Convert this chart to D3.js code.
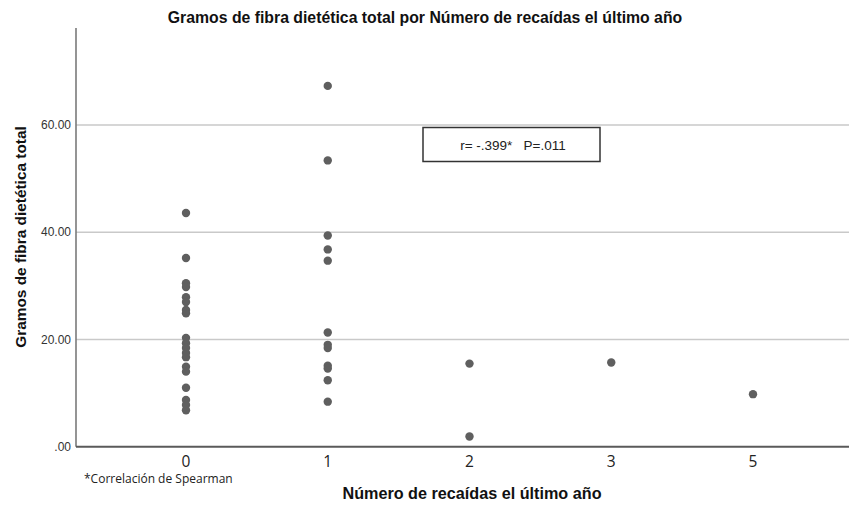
<!DOCTYPE html>
<html>
<head>
<meta charset="utf-8">
<script src="https://cdn.jsdelivr.net/npm/d3@7"></script>
<style>
  html, body { margin: 0; padding: 0; background: #fff; }
  svg { display: block; }
</style>
</head>
<body>
<svg id="chart" width="849" height="507"></svg>
<script>
// ---- data ----
const categories = ["0", "1", "2", "3", "5"];
const yTicks = [0, 20, 40, 60];
const yTickLabels = [".00", "20.00", "40.00", "60.00"];
const relapses0 = [43.6, 35.2, 30.5, 29.8, 27.9, 27.0, 25.5, 24.9, 20.3, 19.3, 18.4, 17.5, 16.7, 14.9, 14.0, 11.0, 8.7, 7.8, 6.8];
const relapses1 = [67.3, 53.4, 39.4, 36.8, 34.7, 21.3, 19.0, 18.4, 15.1, 14.6, 12.4, 8.4];
const relapses2 = [15.5, 1.9];
const relapses3 = [15.7];
const relapses5 = [9.8];
const seriesByCategory = [relapses0, relapses1, relapses2, relapses3, relapses5];
const title = "Gramos de fibra dietética total por Número de recaídas el último año";
const xTitle = "Número de recaídas el último año";
const yTitle = "Gramos de fibra dietética total";
const note = "*Correlación de Spearman";
const statText = "r= -.399*   P=.011";

// ---- layout ----
const svg = d3.select("#chart");
const mLeft = 76, mTop = 28, mBottom = 446.7, mRight = 863;

const x = d3.scalePoint().domain(categories).range([mLeft, mRight]).padding(0.776);
const y = d3.scaleLinear().domain([0, 78.1]).range([mBottom, mTop]);

// gridlines
svg.append("g").selectAll("line").data(yTicks.filter(d => d > 0)).join("line")
  .attr("x1", mLeft).attr("x2", 849)
  .attr("y1", d => y(d)).attr("y2", d => y(d))
  .attr("stroke", "#c9c9c9").attr("stroke-width", 1.6);

// y axis line
svg.append("line").attr("x1", mLeft).attr("x2", mLeft)
  .attr("y1", mTop).attr("y2", mBottom)
  .attr("stroke", "#7a7a7a").attr("stroke-width", 1.6);

// x axis line
svg.append("line").attr("x1", mLeft).attr("x2", 849)
  .attr("y1", mBottom).attr("y2", mBottom)
  .attr("stroke", "#5a5a5a").attr("stroke-width", 2);

// y tick labels
svg.append("g").selectAll("text").data(yTicks).join("text")
  .attr("x", 71).attr("y", d => y(d)).attr("dy", "0.35em")
  .attr("text-anchor", "end")
  .attr("font-family", "Liberation Sans, Arial, sans-serif")
  .attr("font-size", 12).attr("fill", "#333")
  .text((d, i) => yTickLabels[i]);

// x tick labels
svg.append("g").selectAll("text").data(categories).join("text")
  .attr("x", d => x(d)).attr("y", 467)
  .attr("text-anchor", "middle")
  .attr("font-family", "Open Sans, Noto Sans, sans-serif")
  .attr("font-size", 15.5).attr("fill", "#222")
  .text(d => d);

// points
const pts = [];
seriesByCategory.forEach((vals, i) => vals.forEach(v => pts.push({c: categories[i], v})));
svg.append("g").selectAll("circle").data(pts).join("circle")
  .attr("cx", d => x(d.c)).attr("cy", d => y(d.v))
  .attr("r", 4.2).attr("fill", "#5f5f5f");

// title
svg.append("text").attr("x", 425).attr("y", 23)
  .attr("text-anchor", "middle")
  .attr("font-family", "Liberation Sans, Arial, sans-serif")
  .attr("font-weight", "bold").attr("font-size", 15.8).attr("fill", "#111")
  .text(title);

// axis titles
svg.append("text").attr("x", 472).attr("y", 499)
  .attr("text-anchor", "middle")
  .attr("font-family", "Liberation Sans, Arial, sans-serif")
  .attr("font-weight", "bold").attr("font-size", 16.2).attr("fill", "#111")
  .text(xTitle);

svg.append("text")
  .attr("transform", "translate(26,237) rotate(-90)")
  .attr("text-anchor", "middle")
  .attr("font-family", "Liberation Sans, Arial, sans-serif")
  .attr("font-weight", "bold").attr("font-size", 15.4).attr("fill", "#111")
  .text(yTitle);

// footnote
svg.append("text").attr("x", 84).attr("y", 483)
  .attr("font-family", "Open Sans, Noto Sans, sans-serif")
  .attr("font-size", 12).attr("fill", "#222")
  .text(note);

// annotation box
svg.append("rect").attr("x", 423).attr("y", 127.5)
  .attr("width", 177).attr("height", 34)
  .attr("fill", "#fff").attr("stroke", "#333").attr("stroke-width", 1.5);
svg.append("text").attr("x", 513).attr("y", 149.5)
  .attr("text-anchor", "middle")
  .attr("font-family", "Liberation Sans, Arial, sans-serif")
  .attr("font-size", 13.5).attr("fill", "#222")
  .attr("xml:space", "preserve")
  .style("white-space", "pre")
  .text(statText);
</script>
</body>
</html>
